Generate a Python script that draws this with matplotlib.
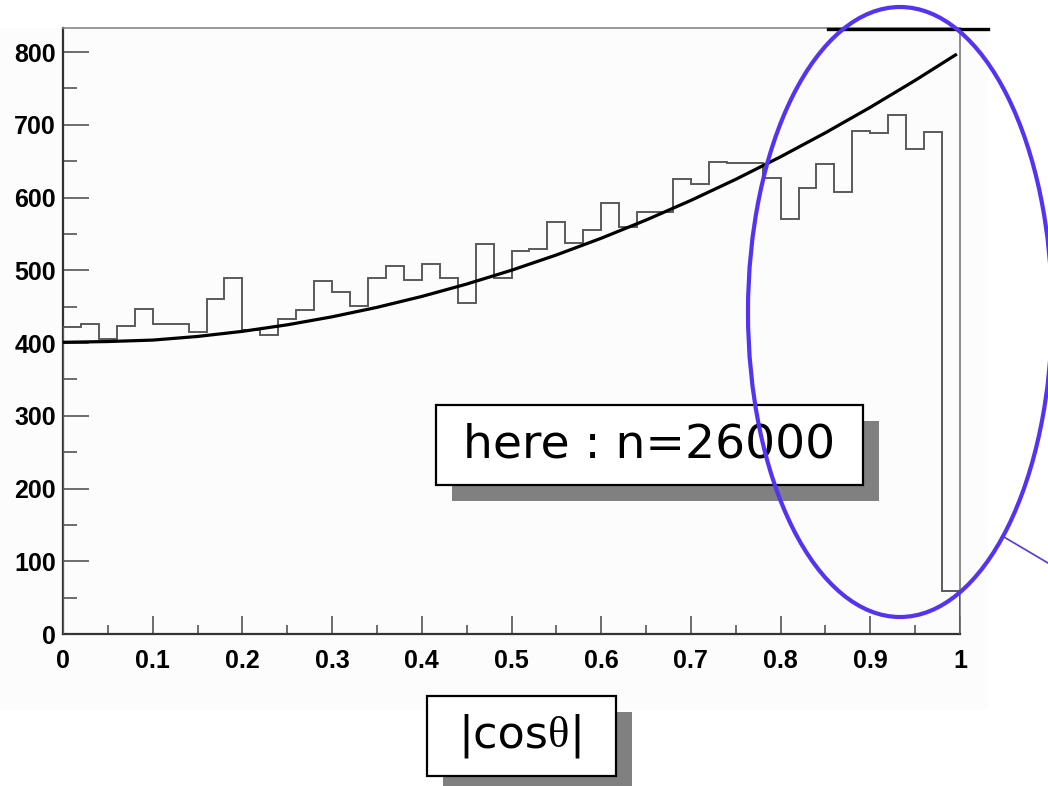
import numpy as np
import matplotlib
matplotlib.use("Agg")
import matplotlib.pyplot as plt
from matplotlib.patches import Rectangle, Ellipse
from matplotlib.lines import Line2D

# |cos theta| histogram, 50 bins over [0, 1]
x_lo, x_hi, n_bins = 0.0, 1.0, 50
counts = [422, 426, 405, 424, 447, 426, 426, 415, 461, 490,
          418, 411, 433, 445, 485, 470, 451, 489, 506, 486,
          509, 490, 455, 536, 489, 527, 529, 566, 537, 555,
          593, 560, 580, 580, 625, 618, 649, 647, 647, 627,
          571, 613, 646, 608, 691, 689, 713, 667, 690, 59]

fit_x = [0.0, 0.05, 0.1, 0.15, 0.2, 0.25, 0.3, 0.35, 0.4, 0.45, 0.5,
         0.55, 0.6, 0.65, 0.7, 0.75, 0.8, 0.85, 0.9, 0.95, 0.995]
fit_y = [401, 402, 404, 409, 416, 425, 436, 449, 464, 481, 500,
         521, 544, 569, 596, 625, 656, 689, 724, 761, 796]

y_top = 833
x_ticks = [0, 0.1, 0.2, 0.3, 0.4, 0.5, 0.6, 0.7, 0.8, 0.9, 1]
x_ticklabels = ["0", "0.1", "0.2", "0.3", "0.4", "0.5", "0.6", "0.7", "0.8", "0.9", "1"]
y_ticks = [0, 100, 200, 300, 400, 500, 600, 700, 800]

W, H = 1048, 786
fig = plt.figure(figsize=(W / 100, H / 100), dpi=100)
fig.patch.set_facecolor("white")


def px(x, y):
    # pixel position (from top-left) -> figure fraction
    return x / W, 1 - y / H


# pale canvas pad behind the frame
x0, y0 = px(0, 710)
fig.add_artist(Rectangle((x0, y0), 988 / W, (710 - 28) / H, transform=fig.transFigure,
                         facecolor="#fcfcfc", edgecolor="none", zorder=0))

ax = fig.add_axes([63 / W, 1 - 634 / H, (960 - 63) / W, (634 - 28) / H])
ax.set_facecolor("#fcfcfc")

edges = np.linspace(x_lo, x_hi, n_bins + 1)
ax.stairs(counts, edges, baseline=0, color="#5a5a5a", lw=1.4, zorder=3)
ax.plot(fit_x, fit_y, color="black", lw=2.3, zorder=4)

ax.set_xlim(x_lo, x_hi)
ax.set_ylim(0, y_top)

ax.set_xticks(x_ticks)
ax.set_xticklabels(x_ticklabels)
ax.set_xticks(np.arange(0.05, 1.0, 0.1), minor=True)
ax.set_yticks(y_ticks)
ax.set_yticks(np.arange(50, 850, 100), minor=True)

ax.tick_params(axis="x", which="major", direction="in", length=13, width=1.2,
               color="#555555", pad=11, labelsize=18)
ax.tick_params(axis="x", which="minor", direction="in", length=6.5, width=1.2,
               color="#555555")
ax.tick_params(axis="y", which="major", direction="in", length=19, width=1.2,
               color="#555555", pad=5, labelsize=18)
ax.tick_params(axis="y", which="minor", direction="in", length=10, width=1.2,
               color="#555555")
for lab in ax.get_xticklabels() + ax.get_yticklabels():
    lab.set_fontfamily("Liberation Sans")
    lab.set_fontweight("bold")

ax.spines["left"].set_color("#333333")
ax.spines["left"].set_linewidth(1.6)
ax.spines["bottom"].set_color("#333333")
ax.spines["bottom"].set_linewidth(1.6)
ax.spines["top"].set_color("#888888")
ax.spines["top"].set_linewidth(1.2)
ax.spines["right"].set_color("#777777")
ax.spines["right"].set_linewidth(1.2)

# dark bar along the top right edge
xa, ya = px(828, 29)
xb, yb = px(988, 29)
fig.add_artist(Line2D([xa, xb], [ya, yb], transform=fig.transFigure,
                      color="black", lw=2.4, zorder=5))


def label_box(parts, left, top, right, bottom, size):
    sx, sy = px(left + 16, bottom + 16)
    fig.add_artist(Rectangle((sx, sy), (right - left) / W, (bottom - top) / H,
                             transform=fig.transFigure, facecolor="#808080",
                             edgecolor="none", zorder=6))
    bx, by = px(left, bottom)
    fig.add_artist(Rectangle((bx, by), (right - left) / W, (bottom - top) / H,
                             transform=fig.transFigure, facecolor="white",
                             edgecolor="black", lw=1.6, zorder=7))
    # text pieces laid side by side, each in its own family, centred as a group
    fig.canvas.draw()
    r = fig.canvas.get_renderer()
    texts = [fig.text(0, 0, s, fontsize=size, family=fam, va="center", zorder=8)
             for s, fam in parts]
    widths = [t.get_window_extent(r).width for t in texts]
    x = (left + right) / 2 - sum(widths) / 2
    cy = 1 - ((top + bottom) / 2) / H
    for t, w in zip(texts, widths):
        t.set_position((x / W, cy))
        x += w


label_box([("here : n=26000", "DejaVu Sans")], 436, 405, 863, 485, 34)
label_box([("|cos", "DejaVu Sans"), ("θ", "Liberation Serif"), ("|", "DejaVu Sans")],
          427, 696, 616, 776, 32)

# blue ring round the last bins, with a pointer line
ex, ey = px(900, 312)
fig.add_artist(Ellipse((ex, ey), 2 * 152 / W, 2 * 305 / H, transform=fig.transFigure,
                       facecolor="none", edgecolor="#5533f2", lw=3.0, zorder=10,
                       clip_on=False))
la, lb = px(1004, 537), px(1048, 563)
fig.add_artist(Line2D([la[0], lb[0]], [la[1], lb[1]], transform=fig.transFigure,
                      color="#5533f2", lw=1.2, zorder=10))

fig.savefig("out.png", dpi=100)
